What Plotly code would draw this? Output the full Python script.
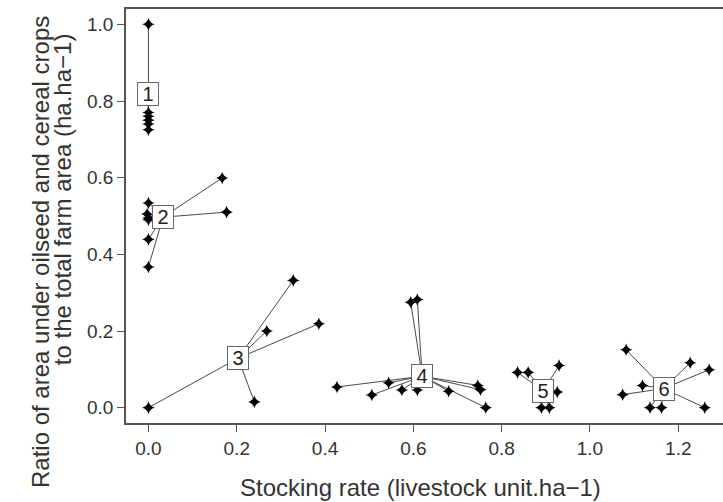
import plotly.graph_objects as go

# ---- data ----
cluster_labels = ["1", "2", "3", "4", "5", "6"]
center_x = [0.0, 0.033, 0.203, 0.620, 0.894, 1.167]
center_y = [0.819, 0.497, 0.129, 0.082, 0.043, 0.050]

c1_x = [0.0, 0.0, 0.0, 0.0, 0.0, 0.0]
c1_y = [1.0, 0.77, 0.76, 0.75, 0.74, 0.725]
c2_x = [0.0, -0.003, 0.0, 0.0, 0.0, 0.0, 0.167, 0.177]
c2_y = [0.534, 0.505, 0.495, 0.49, 0.439, 0.367, 0.599, 0.510]
c3_x = [0.0, 0.328, 0.268, 0.240, 0.386]
c3_y = [0.0, 0.332, 0.200, 0.015, 0.219]
c4_x = [0.594, 0.609, 0.427, 0.544, 0.506, 0.574, 0.609, 0.680, 0.746, 0.752, 0.764]
c4_y = [0.275, 0.282, 0.054, 0.065, 0.033, 0.046, 0.046, 0.043, 0.058, 0.047, 0.0]
c5_x = [0.836, 0.860, 0.930, 0.926, 0.890, 0.908]
c5_y = [0.092, 0.092, 0.110, 0.041, 0.0, 0.0]
c6_x = [1.082, 1.227, 1.270, 1.260, 1.074, 1.119, 1.136, 1.162]
c6_y = [0.151, 0.117, 0.099, 0.0, 0.034, 0.058, 0.0, 0.0]

clusters_x = [c1_x, c2_x, c3_x, c4_x, c5_x, c6_x]
clusters_y = [c1_y, c2_y, c3_y, c4_y, c5_y, c6_y]

x_ticks = [0.0, 0.2, 0.4, 0.6, 0.8, 1.0, 1.2]
y_ticks = [0.0, 0.2, 0.4, 0.6, 0.8, 1.0]

FONT = "Liberation Sans, Arial, Helvetica, sans-serif"
AX = "#555555"
TXT = "#333333"

fig = go.Figure()

# segments center -> point
seg_x, seg_y = [], []
for cx, cy, xs, ys in zip(center_x, center_y, clusters_x, clusters_y):
    for px, py in zip(xs, ys):
        seg_x += [cx, px, None]
        seg_y += [cy, py, None]
fig.add_trace(go.Scatter(x=seg_x, y=seg_y, mode="lines",
                         line=dict(color="#4a4a4a", width=1), hoverinfo="skip",
                         showlegend=False))

all_x = [v for xs in clusters_x for v in xs]
all_y = [v for ys in clusters_y for v in ys]
fig.add_trace(go.Scatter(x=all_x, y=all_y, mode="markers",
                         marker=dict(symbol="star-diamond", size=9, color="black",
                                     line=dict(width=0)),
                         showlegend=False))

for lab, cx, cy in zip(cluster_labels, center_x, center_y):
    fig.add_annotation(x=cx, y=cy, text=lab, showarrow=False,
                       font=dict(family=FONT, size=20, color="#222222"),
                       bgcolor="white", bordercolor="#666666", borderwidth=1,
                       width=18, height=20, borderpad=1)

# axis titles
fig.add_annotation(xref="paper", yref="paper", x=0.4925, y=-0.155,
                   text="Stocking rate (livestock unit.ha\u22121)", showarrow=False,
                   xanchor="center", yanchor="middle",
                   font=dict(family=FONT, size=24, color=TXT))
fig.add_annotation(xref="paper", yref="paper", x=-0.144, y=0.413,
                   text="Ratio of area under oilseed and cereal crops", showarrow=False,
                   textangle=-90, xanchor="center", yanchor="middle",
                   font=dict(family=FONT, size=24, color=TXT))
fig.add_annotation(xref="paper", yref="paper", x=-0.107, y=0.541,
                   text="to the total farm area (ha.ha\u22121)", showarrow=False,
                   textangle=-90, xanchor="center", yanchor="middle",
                   font=dict(family=FONT, size=24, color=TXT))

fig.update_layout(
    width=723, height=502,
    margin=dict(l=126, r=0, t=9, b=79),
    paper_bgcolor="white", plot_bgcolor="white",
    font=dict(family=FONT, color=TXT),
    xaxis=dict(range=[-0.0508, 1.3013], tickvals=x_ticks,
               ticktext=[f"{v:.1f}" for v in x_ticks],
               showgrid=False, zeroline=False, showline=True, linecolor=AX,
               linewidth=1.5, mirror=True, ticks="outside", ticklen=7,
               tickcolor=AX, tickfont=dict(size=19, color=TXT)),
    yaxis=dict(range=[-0.04, 1.04], tickvals=y_ticks,
               ticktext=[f"{v:.1f}" for v in y_ticks],
               showgrid=False, zeroline=False, showline=True, linecolor=AX,
               linewidth=1.5, ticks="outside", ticklen=7,
               tickcolor=AX, tickfont=dict(size=19, color=TXT)),
)

fig.write_html("out.html")
